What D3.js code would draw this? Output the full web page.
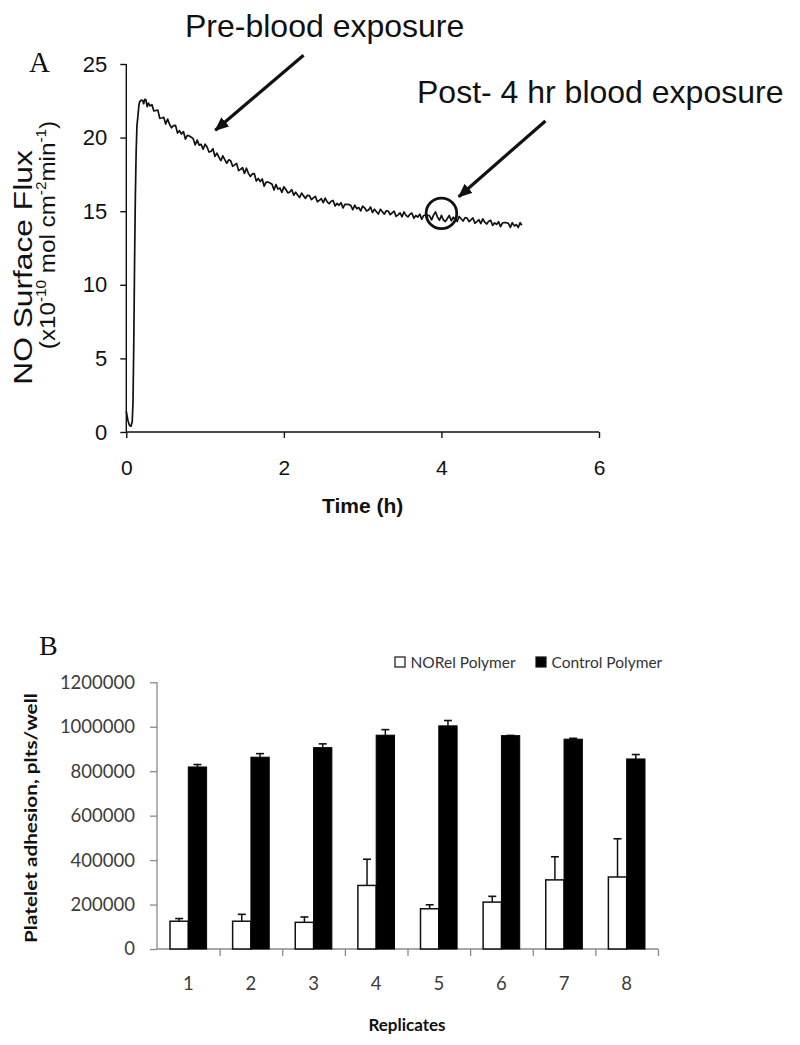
<!DOCTYPE html>
<html><head><meta charset="utf-8">
<script src="https://cdn.jsdelivr.net/npm/d3@7"></script>
<style>html,body{margin:0;padding:0;background:#fff;} svg{display:block;}</style>
</head><body>
<svg id="chart" width="800" height="1045"></svg>
<script>
// ---------------- Panel A data ----------------
const fluxSeries = [
[0,1.4],[0.02,0.8],[0.04,0.45],[0.06,0.4],[0.075,0.7],[0.085,2.0],[0.095,6.0],[0.105,11.5],[0.115,16.0],[0.125,19.0],[0.135,20.8],[0.15,21.6],[0.16,22.2],[0.17,22.45],[0.19,22.55],[0.21,22.5],[0.22,22.3],[0.235,22.6],[0.25,22.55],[0.265,22.1],[0.28,22.35],[0.30,22.15],
[0.325,22.24],[0.35,21.81],[0.375,21.84],[0.40,21.87],[0.425,21.31],[0.45,21.33],[0.475,21.38],[0.50,20.92],[0.525,21.26],[0.55,20.89],
[0.575,20.67],[0.60,20.82],[0.625,20.83],[0.65,20.31],[0.675,20.47],[0.70,20.24],[0.725,20.41],[0.75,19.90],[0.775,20.15],[0.80,20.11],
[0.825,20.03],[0.85,19.91],[0.875,19.50],[0.90,19.83],[0.925,19.49],[0.95,19.54],[0.975,19.21],[1.00,19.55],[1.025,19.36],[1.05,19.02],
[1.075,19.06],[1.10,19.24],[1.125,18.72],[1.15,18.95],[1.175,18.67],[1.20,18.43],[1.225,18.76],[1.25,18.50],[1.275,18.26],[1.30,18.49],
[1.325,18.42],[1.35,18.05],[1.375,18.15],[1.40,18.25],[1.425,17.76],[1.45,17.84],[1.475,17.96],[1.50,17.57],[1.525,17.92],[1.55,17.57],
[1.575,17.36],[1.60,17.53],[1.625,17.55],[1.65,17.05],[1.675,17.22],[1.70,17.01],[1.725,17.19],[1.75,16.70],[1.775,16.98],[1.80,16.97],
[1.825,16.92],[1.85,16.83],[1.875,16.45],[1.90,16.81],[1.925,16.50],[1.95,16.58],[1.975,16.28],[2.00,16.65],[2.025,16.49],[2.05,16.24],
[2.075,16.30],[2.10,16.47],[2.125,16.09],[2.15,16.29],[2.175,16.10],[2.20,15.93],[2.225,16.23],[2.25,16.04],[2.275,15.87],[2.30,16.08],
[2.325,16.06],[2.35,15.79],[2.375,15.90],[2.40,16.01],[2.425,15.64],[2.45,15.74],[2.475,15.86],[2.50,15.58],[2.525,15.89],[2.55,15.64],
[2.575,15.51],[2.60,15.68],[2.625,15.73],[2.65,15.36],[2.675,15.53],[2.70,15.40],[2.725,15.58],[2.75,15.22],[2.775,15.46],[2.80,15.47],
[2.825,15.45],[2.85,15.38],[2.875,15.10],[2.90,15.41],[2.925,15.17],[2.95,15.25],[2.975,15.02],[3.00,15.34],[3.025,15.23],[3.05,15.01],
[3.075,15.08],[3.10,15.28],[3.125,14.91],[3.15,15.14],[3.175,14.96],[3.20,14.81],[3.225,15.13],[3.25,14.96],[3.275,14.80],[3.30,15.03],
[3.325,15.01],[3.35,14.76],[3.375,14.88],[3.40,15.00],[3.425,14.65],[3.45,14.75],[3.475,14.89],[3.50,14.62],[3.525,14.95],[3.55,14.72],
[3.575,14.61],[3.60,14.80],[3.625,14.87],[3.65,14.52],[3.675,14.71],[3.70,14.60],[3.725,14.80],[3.75,14.46],[3.775,14.71],[3.80,14.74],
[3.825,14.73],[3.85,14.68],[3.875,14.41],[3.90,14.73],[3.925,14.95],[3.95,14.60],[3.975,14.39],[4.00,14.72],[4.025,14.40],[4.05,14.30],
[4.075,14.50],[4.10,14.71],[4.125,14.35],[4.15,14.59],[4.175,14.43],[4.20,14.30],[4.225,14.64],[4.25,14.49],[4.275,14.33],[4.30,14.56],
[4.325,14.54],[4.35,14.29],[4.375,14.41],[4.40,14.54],[4.425,14.18],[4.45,14.29],[4.475,14.42],[4.50,14.16],[4.525,14.48],[4.55,14.25],
[4.575,14.13],[4.60,14.32],[4.625,14.38],[4.65,14.03],[4.675,14.21],[4.70,14.10],[4.725,14.29],[4.75,13.95],[4.775,14.20],[4.80,14.23],
[4.825,14.22],[4.85,14.17],[4.875,13.90],[4.90,14.22],[4.925,14.00],[4.95,14.09],[4.975,13.89],[5.00,14.22],[5.02,14.05]
];
const fluxXTicks = [0, 2, 4, 6];
const fluxYTicks = [0, 5, 10, 15, 20, 25];
const fluxXLabel = "Time (h)";
const fluxYLabel1 = "NO Surface Flux";
const annotationCircle = [[4.0, 14.85]];
const arrowSegments = [[[2.25, 25.6], [1.13, 20.5]], [[5.32, 21.13], [4.22, 15.98]]];
const annotationLabels = ["Pre-blood exposure", "Post- 4 hr blood exposure"];
const annotationAnchors = [[0.745, 26.86], [3.69, 22.33]];

// ---------------- Panel B data ----------------
const replicates = ["1", "2", "3", "4", "5", "6", "7", "8"];
const seriesNames = ["NORel Polymer", "Control Polymer"];
const norelValues = [125000, 125000, 120000, 286000, 181000, 211000, 311000, 324000];
const norelErrors = [12000, 31000, 24000, 118000, 18000, 26000, 104000, 172000];
const controlValues = [819000, 863000, 906000, 962000, 1004000, 960000, 944000, 855000];
const controlErrors = [11000, 16000, 17000, 25000, 24000, 1000, 4000, 20000];
const adhesionTicks = [0, 200000, 400000, 600000, 800000, 1000000, 1200000];
const adhesionYLabel = "Platelet adhesion, plts/well";
const adhesionXLabel = "Replicates";

const svg = d3.select("#chart");
const SANS = "'Liberation Sans', Arial, sans-serif";
const SERIF = "'Liberation Serif', 'Times New Roman', serif";
const CAL = "Lato, 'Open Sans', sans-serif";

// ================= Panel A =================
const xA = d3.scaleLinear([0, 6], [126.3, 599]);
const yA = d3.scaleLinear([0, 25], [432, 64]);
const gA = svg.append("g");

const yAxA = gA.append("g").attr("transform", `translate(${xA(0)},0)`)
  .call(d3.axisLeft(yA).tickValues(fluxYTicks).tickSize(6).tickPadding(13).tickFormat(d3.format("d")));
const xAxA = gA.append("g").attr("transform", `translate(0,${yA(0)})`)
  .call(d3.axisBottom(xA).tickValues(fluxXTicks).tickSize(6).tickPadding(22).tickFormat(d3.format("d")));
[yAxA, xAxA].forEach(a => {
  a.select(".domain").attr("stroke", "#111").attr("stroke-width", 1.4);
  a.selectAll(".tick line").attr("stroke", "#111").attr("stroke-width", 1.4);
  a.selectAll("text").attr("font-family", SANS).attr("fill", "#111");
});
yAxA.selectAll("text").attr("font-size", 22);
xAxA.selectAll("text").attr("font-size", 21);
yAxA.select(".domain").attr("d", `M0,${yA(25)}V${yA(0)}`);
xAxA.select(".domain").attr("d", `M${xA(0)},0H${xA(6)}`);

gA.append("path").datum(fluxSeries)
  .attr("fill", "none").attr("stroke", "#111").attr("stroke-width", 1.7).attr("stroke-linejoin", "round")
  .attr("d", d3.line().x(d => xA(d[0])).y(d => yA(d[1])));

gA.append("text").attr("x", (xA(0) + xA(6)) / 2).attr("y", 513)
  .attr("text-anchor", "middle").attr("font-family", SANS).attr("font-weight", "bold").attr("font-size", 21)
  .attr("fill", "#111").text(fluxXLabel);

// Y label (two lines)
const yl1 = gA.append("g").attr("transform", "translate(31.7,267.5) rotate(-90) scale(1.27,1)");
yl1.append("text").attr("text-anchor", "middle").attr("font-family", SANS).attr("font-size", 25)
  .attr("fill", "#111").text(fluxYLabel1);
const yl2 = gA.append("g").attr("transform", "translate(54.5,235) rotate(-90) scale(1.1,1)");
const t2 = yl2.append("text").attr("text-anchor", "middle").attr("font-family", SANS).attr("font-size", 22).attr("fill", "#111");
t2.append("tspan").text("(x10");
t2.append("tspan").attr("font-size", 14).attr("dy", -9).text("-10");
t2.append("tspan").attr("dy", 9).text(" mol cm");
t2.append("tspan").attr("font-size", 14).attr("dy", -9).text("-2");
t2.append("tspan").attr("dy", 9).text("min");
t2.append("tspan").attr("font-size", 14).attr("dy", -9).text("-1");
t2.append("tspan").attr("dy", 9).text(")");

gA.append("text").attr("x", 29).attr("y", 72).attr("font-family", SERIF).attr("font-size", 29)
  .attr("fill", "#111").text("A");

// annotations
const defs = svg.append("defs");
defs.append("marker").attr("id", "ah").attr("markerUnits", "userSpaceOnUse")
  .attr("viewBox", "0 0 14 12").attr("refX", 13).attr("refY", 6)
  .attr("markerWidth", 14).attr("markerHeight", 12).attr("orient", "auto")
  .append("path").attr("d", "M0,0L14,6L0,12Z").attr("fill", "#111");
gA.selectAll(".arrow").data(arrowSegments).join("line").attr("class", "arrow")
  .attr("x1", d => xA(d[0][0])).attr("y1", d => yA(d[0][1]))
  .attr("x2", d => xA(d[1][0])).attr("y2", d => yA(d[1][1]))
  .attr("stroke", "#111").attr("stroke-width", 3.2).attr("marker-end", "url(#ah)");
gA.selectAll(".circ").data(annotationCircle).join("circle").attr("class", "circ")
  .attr("cx", d => xA(d[0])).attr("cy", d => yA(d[1])).attr("r", 15.3)
  .attr("fill", "none").attr("stroke", "#111").attr("stroke-width", 2.8);
gA.selectAll(".ann").data(annotationLabels).join("text").attr("class", "ann")
  .attr("x", (d, i) => xA(annotationAnchors[i][0])).attr("y", (d, i) => yA(annotationAnchors[i][1]))
  .attr("font-family", SANS).attr("font-size", 32).attr("fill", "#111").text(d => d);

// ================= Panel B =================
const gB = svg.append("g");
const x0 = d3.scaleBand(replicates, [157, 658]).padding(0);
const bw = x0.bandwidth();
const x1 = d3.scaleBand(["norel", "control"], [0.2077 * bw, 0.792 * bw]);
const yB = d3.scaleLinear([0, 1200000], [949, 682.3]);
const AX = "#8a8a8a";

const yAxB = gB.append("g").attr("transform", `translate(157,0)`)
  .call(d3.axisLeft(yB).tickValues(adhesionTicks).tickSize(7).tickPadding(15).tickFormat(d3.format("d")));
yAxB.select(".domain").attr("d", `M0,${yB(1200000)}V${yB(0)}`);
const xPos = d3.scaleLinear([0, 8], [157, 658]);
const xAxB = gB.append("g").attr("transform", `translate(0,${yB(0)})`)
  .call(d3.axisBottom(xPos).tickValues(d3.range(1, 9)).tickSize(7).tickFormat(""));
xAxB.select(".domain").attr("d", `M${xPos(0)},0H${xPos(8)}`);
const xLabB = gB.append("g").attr("transform", `translate(0,${yB(0)})`)
  .call(d3.axisBottom(x0).tickSize(0).tickPadding(28));
xLabB.select(".domain").remove();
[yAxB, xAxB].forEach(a => {
  a.select(".domain").attr("stroke", AX).attr("stroke-width", 1.3);
  a.selectAll(".tick line").attr("stroke", AX).attr("stroke-width", 1.3);
});
[yAxB, xLabB].forEach(a => a.selectAll("text").attr("font-family", CAL).attr("font-size", 18.5).attr("fill", "#3c3c3c"));

const rows = replicates.map((r, i) => ({ r, norel: norelValues[i], nErr: norelErrors[i], control: controlValues[i], cErr: controlErrors[i] }));
const grp = gB.selectAll(".rep").data(rows).join("g").attr("class", "rep")
  .attr("transform", d => `translate(${x0(d.r)},0)`);
const errs = [["norel", "nErr"], ["control", "cErr"]];
errs.forEach(([k, e]) => {
  grp.append("line").attr("x1", x1(k) + x1.bandwidth() / 2).attr("x2", x1(k) + x1.bandwidth() / 2)
    .attr("y1", d => yB(d[k])).attr("y2", d => yB(d[k] + d[e])).attr("stroke", "#111").attr("stroke-width", 1.5);
  grp.append("line").attr("x1", x1(k) + x1.bandwidth() / 2 - 4).attr("x2", x1(k) + x1.bandwidth() / 2 + 4)
    .attr("y1", d => yB(d[k] + d[e])).attr("y2", d => yB(d[k] + d[e])).attr("stroke", "#111").attr("stroke-width", 1.6);
});
grp.append("rect").attr("x", x1("norel")).attr("width", x1.bandwidth())
  .attr("y", d => yB(d.norel)).attr("height", d => yB(0) - yB(d.norel))
  .attr("fill", "#fff").attr("stroke", "#111").attr("stroke-width", 1.5);
grp.append("rect").attr("x", x1("control")).attr("width", x1.bandwidth())
  .attr("y", d => yB(d.control)).attr("height", d => yB(0) - yB(d.control))
  .attr("fill", "#000").attr("stroke", "#000").attr("stroke-width", 1);

// legend
const legX = [395, 536];
const leg = gB.selectAll(".leg").data(seriesNames).join("g").attr("class", "leg")
  .attr("transform", (d, i) => `translate(${legX[i]},657)`);
leg.append("rect").attr("width", 10).attr("height", 10)
  .attr("fill", (d, i) => i === 0 ? "#fff" : "#000").attr("stroke", "#111").attr("stroke-width", 1.2);
leg.append("text").attr("x", 15.5).attr("y", 10.5).attr("font-family", CAL).attr("font-size", 15.5)
  .attr("fill", "#333").text(d => d);

// axis titles
gB.append("g").attr("transform", "translate(37,818) rotate(-90)")
  .append("text").attr("text-anchor", "middle").attr("font-family", CAL).attr("font-weight", "bold")
  .attr("font-size", 17).attr("fill", "#111").attr("textLength", 250).attr("lengthAdjust", "spacingAndGlyphs")
  .text(adhesionYLabel);
gB.append("text").attr("x", 407).attr("y", 1031).attr("text-anchor", "middle").attr("font-family", CAL)
  .attr("font-weight", "bold").attr("font-size", 17).attr("fill", "#111").text(adhesionXLabel);
gB.append("text").attr("x", 39).attr("y", 655).attr("font-family", SERIF).attr("font-size", 28)
  .attr("fill", "#111").text("B");
</script>
</body></html>
